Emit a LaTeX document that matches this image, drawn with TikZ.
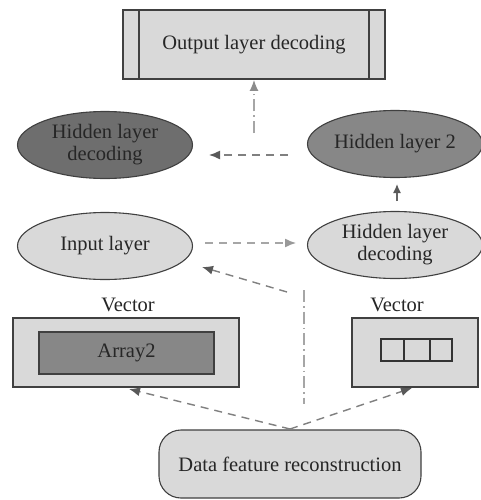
\documentclass[tikz,border=0pt]{standalone}
\usepackage{fontspec}
\setmainfont{Liberation Serif}
\usetikzlibrary{shapes.geometric,arrows.meta}
\begin{document}
\begin{tikzpicture}[x=1pt,y=-1pt,
  txt/.style={font=\fontsize{20.5}{22}\selectfont, text=black!85},
  box/.style={draw=black!75, line width=1.1pt, fill=black!15},
  ell/.style={ellipse, draw=black!75, line width=1.1pt, minimum width=175pt, minimum height=67pt, inner sep=0pt, align=center, txt},
  dasharrow/.style={draw=black!50, line width=1.4pt, dash pattern=on 8pt off 6pt, arrows={-{Latex[length=11pt,width=9pt,fill=black!65,color=black!65]}}},
  dotarrow/.style={draw=black!35, line width=1.2pt, dash pattern=on 12pt off 4pt on 1.5pt off 4pt},
]
\useasboundingbox (0,0) rectangle (481,500);
\fill[white] (0,0) rectangle (481,500);

% output box
\node[box, minimum width=262pt, minimum height=69pt, inner sep=0pt, txt] (out) at (254,44.5) {Output layer decoding};
\draw[black!75, line width=1.1pt] (139,10) -- (139,79) (369,10) -- (369,79);

% ellipses
\node[ell, fill=black!57] (hld) at (105,145) {Hidden layer\\decoding};
\node[ell, fill=black!47] (hl2) at (395,144) {Hidden layer 2};
\node[ell, fill=black!15] (inp) at (105,246) {Input layer};
\node[ell, fill=black!15] (hldec) at (395,245) {Hidden layer\\decoding};

% vector boxes
\node[txt] (v1) at (128,305) {Vector};
\node[txt] (v2) at (397,305) {Vector};
\node[box, minimum width=226pt, minimum height=69pt, inner sep=0pt] (vb1) at (126,352.5) {};
\node[box, fill=black!47, minimum width=175pt, minimum height=42pt, inner sep=0pt, txt] (arr) at (126.5,353) {Array2};
\node[box, minimum width=126pt, minimum height=69pt, inner sep=0pt] (vb2) at (415,352.5) {};
\draw[black!80, line width=1.1pt] (381,339) rectangle (452,361) (404,339) -- (404,361) (430,339) -- (430,361);

% data feature
\node[box, rounded corners=22pt, minimum width=262pt, minimum height=68pt, inner sep=0pt, txt] (dfr) at (290,464) {Data feature reconstruction};

% connectors
\coordinate (a1) at (254,133);
\coordinate (a2) at (254,80);
\draw[dotarrow, arrows={-{Latex[length=11pt,width=9pt,fill=black!45,color=black!45]}}] (a1) -- (a2);

\coordinate (b1) at (288,155);
\coordinate (b2) at (209,155);
\draw[dasharrow] (b1) -- (b2);

\coordinate (c1) at (397,201);
\coordinate (c2) at (397,184);
\draw[draw=black!60, line width=1.4pt, -{Latex[length=9pt,width=8pt,fill=black!65,color=black!65]}] (c1) -- (c2);

\coordinate (d1) at (205,243);
\coordinate (d2) at (296,243);
\draw[dasharrow, draw=black!35, arrows={-{Latex[length=11pt,width=9pt,fill=black!40,color=black!40]}}] (d1) -- (d2);

\coordinate (e1) at (287,292);
\coordinate (e2) at (202,267);
\draw[dasharrow] (e1) -- (e2);

\coordinate (f1) at (304,290);
\coordinate (f2) at (304,404);
\draw[dotarrow] (f1) -- (f2);

\coordinate (g0) at (290,429);
\coordinate (g1) at (129,389);
\coordinate (g2) at (412,388);
\draw[dasharrow] (g0) -- (g1);
\draw[dasharrow] (g0) -- (g2);
\end{tikzpicture}
\end{document}
